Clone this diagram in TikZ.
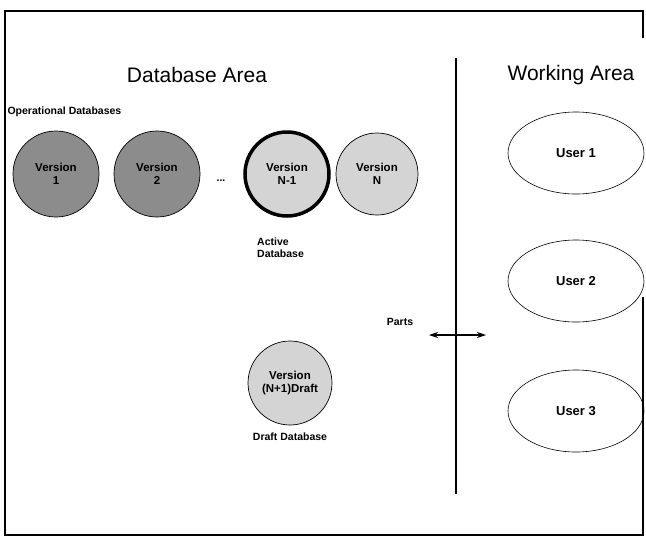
\documentclass[tikz,border=0pt]{standalone}
\usepackage{fontspec}
\setmainfont{Liberation Sans}
\usetikzlibrary{arrows.meta,shapes.geometric}
\tikzset{
  title/.style={font=\fontsize{21}{24}\selectfont},
  small/.style={font=\bfseries\fontsize{10.5}{12}\selectfont},
  ver/.style={circle, draw=black, line width=0.7pt, minimum size=86pt, inner sep=0pt, align=center, font=\bfseries\fontsize{11.5}{13}\selectfont},
  dark/.style={fill=black!45},
  light/.style={fill=black!17},
  user/.style={ellipse, draw=black, line width=0.6pt, minimum width=136pt, minimum height=82pt, font=\bfseries\fontsize{13}{15}\selectfont},
  divider/.style={line width=1.1pt},
  framestyle/.style={line width=1.2pt},
  partsarrow/.style={line width=1.1pt, {Stealth[length=9pt,width=6pt]}-{Stealth[length=9pt,width=6pt]}}
}
\begin{document}
\begin{tikzpicture}[x=1pt,y=-1pt]
\useasboundingbox (0,0) rectangle (646,544);
% frame
\coordinate (fTR) at (643,11);
\coordinate (fTL) at (5,11);
\coordinate (fBL) at (5,535);
\coordinate (fBR) at (643,535);
\coordinate (fR1) at (643,38);
\coordinate (fR2) at (643,297);
\draw[framestyle] (fR1) -- (fTR) -- (fTL) -- (fBL) -- (fBR) -- (fR2);
% titles
\node[title] (dbarea) at (197,75) {Database Area};
\node[title] (wkarea) at (571,75) {Working Area};
% divider
\coordinate (divT) at (456,58);
\coordinate (divB) at (456,494);
\draw[divider] (divT) -- (divB);
% operational
\node[small, anchor=west] (oper) at (4,112) {Operational Databases};
\node[ver, dark] (v1) at (56,174) {Version\\1};
\node[ver, dark] (v2) at (157,174) {Version\\2};
\node[small] (dots) at (221,181) {...};
\node[ver, light, line width=3.5pt, minimum size=84pt] (vn1) at (287,174) {Version\\N-1};
\node[ver, light, minimum size=82pt] (vn) at (377,174) {Version\\N};
\node[small, anchor=north west, align=left, inner sep=0pt] (active) at (257,238) {Active\\Database};
% draft
\node[ver, light, minimum size=84pt] (draft) at (290,383) {Version\\(N+1)Draft};
\node[small] (draftlbl) at (290,437) {Draft Database};
% parts arrow
\node[small] (parts) at (400,322) {Parts};
\coordinate (arrL) at (429,335);
\coordinate (arrR) at (486,335);
\draw[partsarrow] (arrL) -- (arrR);
% users
\node[user] (u1) at (576,153) {User 1};
\node[user] (u2) at (576,281) {User 2};
\node[user] (u3) at (576,411) {User 3};
\end{tikzpicture}
\end{document}
